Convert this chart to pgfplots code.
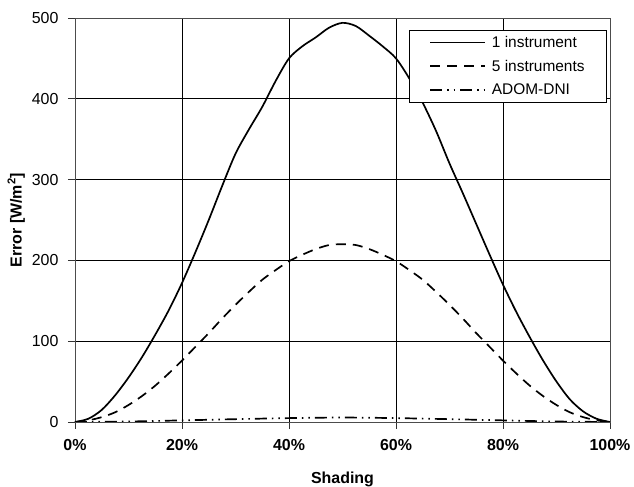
\documentclass[border=0pt]{standalone}
\usepackage{pgfplots}
\pgfplotsset{compat=1.18}
\usepackage{fontspec}
\setmainfont{Liberation Sans}
\begin{document}
\begin{tikzpicture}
\begin{axis}[
  name=main,
  scale only axis,
  width=535bp, height=404bp,
  xmin=0, xmax=100, ymin=0, ymax=500,
  xtick={0,20,...,100}, ytick={0,100,...,500},
  xticklabels={\textbf{0\%},\textbf{20\%},\textbf{40\%},\textbf{60\%},\textbf{80\%},\textbf{100\%}},
  /pgf/number format/assume math mode=true,
  tick label style={font=\fontsize{16}{19}\selectfont},
  yticklabel style={xshift=-6bp},
  xticklabel style={yshift=-7bp},
  grid=major,
  major grid style={black, line width=0.7pt},
  axis line style={gray!60!black, line width=0.9pt},
  major tick style={gray!40!black, line width=0.8pt},
  tick align=outside,
  major tick length=7bp,
  xtick pos=bottom, ytick pos=left,
  xlabel={\textbf{Shading}},
  ylabel={\textbf{Error [W/m\textsuperscript{2}]}},
  label style={font=\fontsize{16}{19}\selectfont},
  xlabel style={yshift=-14bp},
  ylabel style={yshift=0bp},
  legend style={at={(0.994,0.97)}, anchor=north east, draw=black,
    font=\fontsize{15.5}{18}\selectfont, row sep=7pt, column sep=4bp,
    inner xsep=20bp, inner ysep=4bp},
  legend cell align=left,
  legend image code/.code={\draw[#1, line width=1.7pt] (0bp,0bp) -- (55bp,0bp);},
]
\addplot[black, line width=1.7pt, smooth] coordinates {
(0,0) (2.5,4) (5,15) (7.5,33) (10,55) (12.5,80) (15,108) (17.5,138) (20,172)
(22.5,210) (25,250) (27.5,292) (30,332) (32.5,362) (35,390) (37.5,422) (40,450)
(42.5,465) (45,476) (47.5,488) (50,494) (52.5,490) (55,478) (57.5,465) (60,450)
(62.5,425) (65,395) (67.5,360) (70,320) (72.5,283) (75,245) (77.5,207) (80,170)
(82.5,136) (85,105) (87.5,76) (90,50) (92.5,28) (95,13) (97.5,4) (100,0)
};
\addlegendentry{1 instrument}
\addplot[black, line width=1.7pt, smooth, dash pattern=on 10bp off 7bp] coordinates {
(0,0) (2.5,2) (5,6) (7.5,12) (10,21) (12.5,32) (15,45) (17.5,60) (20,76)
(22.5,93) (25,110) (27.5,128) (30,145) (32.5,161) (35,176) (37.5,188) (40,199)
(42.5,207) (45,214) (47.5,219) (50,220) (52.5,219) (55,214) (57.5,207) (60,199)
(62.5,188) (65,176) (67.5,161) (70,145) (72.5,128) (75,110) (77.5,93) (80,76)
(82.5,60) (85,45) (87.5,32) (90,21) (92.5,12) (95,6) (97.5,2) (100,0)
};
\addlegendentry{5 instruments}
\addplot[black, line width=1.7pt, smooth, dash pattern=on 12bp off 5bp on 1.5bp off 5bp on 1.5bp off 5bp] coordinates {
(0,0) (10,0.6) (20,2) (30,3.5) (40,4.8) (50,5.5) (60,4.8) (70,3.5) (80,2) (90,0.6) (100,0)
};
\addlegendentry{ADOM-DNI}
\end{axis}
\pgfresetboundingbox
\path[use as bounding box] ([xshift=-75bp,yshift=-65bp]main.south west) rectangle ([xshift=24bp,yshift=18bp]main.north east);
\end{tikzpicture}
\end{document}
